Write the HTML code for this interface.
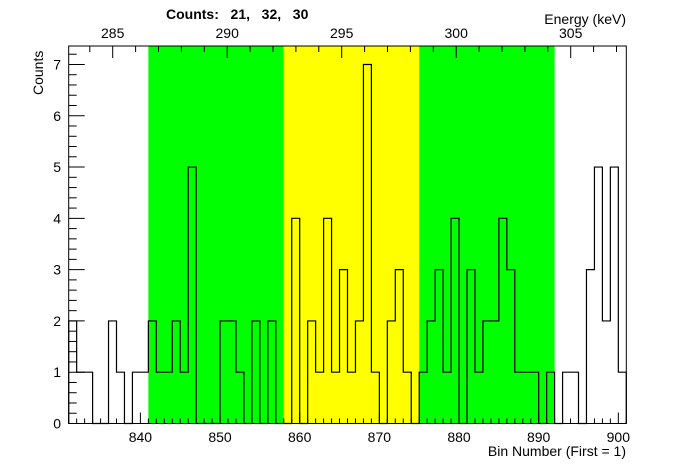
<!DOCTYPE html>
<html><head><meta charset="utf-8"><style>
body{margin:0;background:#fff}
svg{display:block;font-family:"Liberation Sans",Arial,sans-serif}
</style></head><body>
<svg id="chart" width="696" height="472" viewBox="0 0 696 472" xmlns="http://www.w3.org/2000/svg"></svg>
<script>
const binStart = 831;
const counts = [2,1,1,0,0,2,1,0,1,1, 2,1,1,2,1,5,0,0,0,2, 2,1,0,2,0,2,0,0,4,0, 2,1,4,1,3,1,2,7,1,0, 2,3,1,0,1,2,3,1,4,0, 3,1,2,2,4,3,1,1,1,0, 1,0,1,1,0,3,5,2,5,1];
const regions = [[841,858,'#00ff00'],[858,875,'#ffff00'],[875,892,'#00ff00']];
const regionCounts = [21,32,30];
const xTicks = [840,850,860,870,880,890,900];
const yTicks = [0,1,2,3,4,5,6,7];
const eTicks = [285,290,295,300,305];

const L=68.7,R=626.3,T=46,B=423.5;
const xMin=831,xMax=901,yMax=7.36;
const sx=v=>L+(v-xMin)/(xMax-xMin)*(R-L);
const sy=v=>B-v/yMax*(B-T);
const eA=285,ePx=112.7,ePer=(570.7-112.7)/20;
const se=e=>ePx+(e-eA)*ePer;
const svg=document.getElementById('chart');
const NS='http://www.w3.org/2000/svg';
function mk(tag,at,parent){const e=document.createElementNS(NS,tag);for(const k in at)e.setAttribute(k,at[k]);(parent||svg).appendChild(e);return e;}

regions.forEach((r,i)=>{
  const e=mk('rect',{x:sx(r[0]),y:T,width:sx(r[1])-sx(r[0]),height:B-T,fill:r[2]});
  
  
});

let d='M'+sx(binStart)+' '+sy(0);
counts.forEach((c,i)=>{d+=' L'+sx(binStart+i)+' '+sy(c)+' L'+sx(binStart+i+1)+' '+sy(c);});
d+=' L'+sx(binStart+counts.length)+' '+sy(0);
const h=mk('path',{d:d,fill:'none',stroke:'#000','stroke-width':1.2});



const fr=mk('rect',{x:L,y:T,width:R-L,height:B-T,fill:'none',stroke:'#000','stroke-width':1});



// bottom ticks
for(let v=xMin;v<=xMax;v++){
  const major=v%10===0;
  mk('line',{x1:sx(v),x2:sx(v),y1:B,y2:B-(major?11:5),stroke:'#000','stroke-width':1});
}
xTicks.forEach(v=>{
  const t=mk('text',{x:sx(v),y:442,'font-size':14,'text-anchor':'middle'});t.textContent=v;
  
  
});
// left ticks
for(let v=0;v<=yMax+1e-9;v+=0.2){
  const major=Math.abs(v-Math.round(v))<1e-6;
  mk('line',{x1:L,x2:L+(major?16:8),y1:sy(v),y2:sy(v),stroke:'#000','stroke-width':1});
}
yTicks.forEach(v=>{
  const t=mk('text',{x:61,y:sy(v)+5,'font-size':14,'text-anchor':'end'});t.textContent=v;
  
  
});
// top energy ticks
for(let e=284;e<=307;e++){
  const x=se(e); if(x<L||x>R)continue;
  const major=e%5===0;
  mk('line',{x1:x,x2:x,y1:T,y2:T+(major?12:6),stroke:'#000','stroke-width':1});
}
eTicks.forEach(v=>{
  const t=mk('text',{x:se(v),y:38,'font-size':14,'text-anchor':'middle'});t.textContent=v;
  
  
});
</script>
<svg style="position:absolute;left:0;top:0" width="696" height="472">
<text x="166" y="19" font-family="Liberation Sans, Arial, sans-serif" font-size="14" font-weight="bold" xml:space="preserve">Counts:   21,   32,   30</text>
<text x="626" y="24" text-anchor="end" font-family="Liberation Sans, Arial, sans-serif" font-size="14">Energy (keV)</text>
<text x="626" y="456" text-anchor="end" font-family="Liberation Sans, Arial, sans-serif" font-size="14">Bin Number (First = 1)</text>
<text transform="translate(43,95) rotate(-90)" font-family="Liberation Sans, Arial, sans-serif" font-size="14">Counts</text>
</svg>
</body></html>
